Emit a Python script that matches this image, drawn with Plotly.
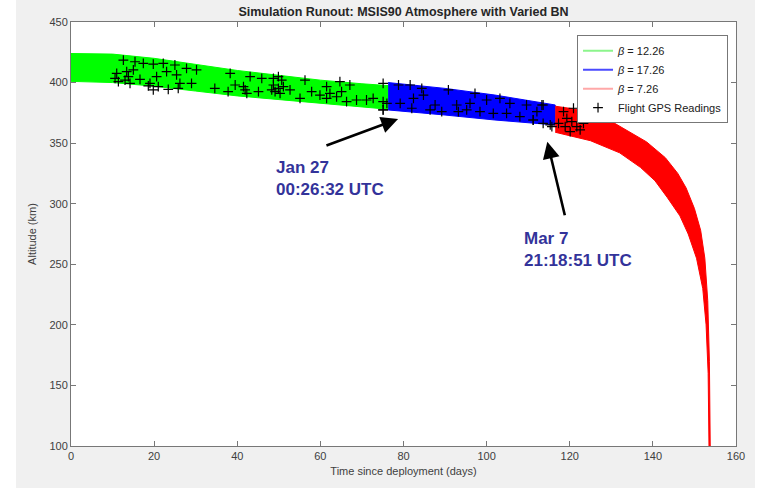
import plotly.graph_objects as go

# ---- data ----
green_t = [0, 10, 20, 30, 40, 50, 60, 70, 76.3]
green_hi = [424, 423.5, 420, 415, 410, 406, 402, 399, 397.5]
green_lo = [401, 400, 397, 393, 389, 386, 383, 380, 378]

blue_t = [76.3, 90, 102, 116.5]
blue_hi = [400, 395.2, 389.7, 381.5]
blue_lo = [377.4, 373.2, 369.1, 365]

red_hi_t = [116.5, 122.5, 130.5, 138.5, 143, 146, 148, 150, 151.5, 152.5, 153.2, 153.6, 153.8]
red_hi = [380.5, 377.5, 367, 351, 338, 325, 313, 296, 278, 255, 220, 170, 100]
red_lo_t = [116.5, 125, 132, 137, 140.5, 143.5, 146.5, 148.5, 150.5, 152, 152.8, 153.3, 153.5]
red_lo = [359, 352, 342, 330, 319, 305, 290, 275, 255, 230, 200, 160, 100]

gps_t = [12.6, 15.4, 17.4, 19.8, 22.2, 25.0, 27.8, 30.2, 23.0, 25.4, 20.6, 11.0, 13.4, 15.0, 10.6,
         13.0, 14.2, 16.6, 19.0, 21.0, 23.4, 25.8, 26.2, 29.0, 34.6, 38.3, 39.5, 37.8, 41.5, 42.3,
         19.8, 18.6, 11.4, 13.8,
         43.1, 45.9, 48.7, 49.9, 50.7, 48.7, 49.9, 49.1, 50.3, 48.3, 51.1, 52.7, 56.3, 55.1, 57.9,
         59.9, 61.5, 62.3, 64.7, 67.1, 63.9, 66.3, 68.7, 71.1, 72.7, 75.1, 75.1, 41.9, 45.1, 61.5, 65.1,
         75.1, 78.8, 81.6, 84.4, 84.8, 90.8, 97.2, 100.0, 103.2, 76.0, 79.2, 82.0, 86.4, 89.2, 93.2,
         95.2, 98.4, 101.6, 104.8, 108.0, 109.6, 113.6, 111.2, 115.3, 75.1, 82.4, 87.6, 92.8, 96.0,
         105.6, 112.1,
         113.3, 111.2, 113.6, 115.7, 119.3, 120.5, 121.7, 122.5, 120.1, 123.3, 118.9, 120.9, 118.5, 117.3]
gps_alt = [418.6, 417.2, 415.9, 415.3, 415.9, 414.5, 411.8, 410.4, 409.0, 406.3, 404.9, 407.6, 409.0, 410.4, 403.5,
           402.1, 399.4, 402.7, 399.4, 396.6, 394.4, 395.2, 399.4, 399.4, 395.2, 407.6, 398.0, 392.5, 396.6, 391.1,
           393.9, 397.2, 400.8, 404.9,
           404.9, 403.5, 403.5, 404.9, 402.1, 398.0, 395.2, 392.5, 391.1, 393.9, 396.6, 393.9, 402.1, 387.0, 392.5,
           389.7, 396.6, 391.1, 400.8, 398.0, 388.3, 384.2, 385.6, 385.6, 387.0, 384.2, 377.4, 393.9, 392.5, 387.0, 392.5,
           399.4, 398.0, 398.0, 395.2, 389.7, 393.9, 391.1, 385.6, 387.0, 382.9, 382.9, 378.8, 377.4, 376.0, 376.0,
           377.4, 376.0, 374.6, 374.6, 371.9, 381.5, 381.5, 369.1, 365.0, 377.4, 387.0, 381.5, 381.5, 382.9,
           382.9, 376.0,
           381.5, 369.1, 366.4, 363.6, 370.5, 367.7, 363.6, 360.9, 359.5, 366.4, 363.6, 378.8, 376.0, 366.4]

legend_names = ["<i>β</i> = 12.26", "<i>β</i> = 17.26", "<i>β</i> = 7.26", "Flight GPS Readings"]
x_ticks = [0, 20, 40, 60, 80, 100, 120, 140, 160]
y_ticks = [100, 150, 200, 250, 300, 350, 400, 450]

FONT = "Liberation Sans, Arial, sans-serif"

fig = go.Figure()


def band(t, hi, t_lo, lo, color):
    xs = list(t) + list(reversed(t_lo))
    ys = list(hi) + list(reversed(lo))
    fig.add_trace(go.Scatter(x=xs, y=ys, fill="toself", fillcolor=color, mode="lines",
                             line=dict(color=color, width=1), showlegend=False, hoverinfo="skip"))


band(green_t, green_hi, green_t, green_lo, "#00ff00")
band(blue_t, blue_hi, blue_t, blue_lo, "#0000ff")
band(red_hi_t, red_hi, red_lo_t, red_lo, "#ff0000")

# legend entries (pale line samples as in the reference)
for name, col in zip(legend_names[:3], ["#8cf58c", "#4a4aff", "#ffa8a8"]):
    fig.add_trace(go.Scatter(x=[None], y=[None], mode="lines", name=name,
                             line=dict(color=col, width=2)))

fig.add_trace(go.Scatter(x=gps_t, y=gps_alt, mode="markers", name=legend_names[3],
                         marker=dict(symbol="cross-thin", size=7, color="black",
                                     line=dict(color="black", width=1.2))))

fig.update_layout(
    width=772, height=493,
    margin=dict(l=71, r=36, t=22, b=47),
    paper_bgcolor="#f0f0f0",
    plot_bgcolor="white",
    font=dict(family=FONT, size=11, color="#404040"),
    title=dict(text="<b>Simulation Runout: MSIS90 Atmosphere with Varied BN</b>",
               x=0.5, xref="paper", xanchor="center", y=1 - 12 / 493, yref="container",
               yanchor="middle", font=dict(size=12.5, color="#262626")),
    xaxis=dict(range=[0, 160], tickvals=x_ticks, ticks="inside", ticklen=5, mirror="ticks",
               showline=True, linecolor="#777777", tickcolor="#777777", showgrid=False,
               zeroline=False, title=dict(text="Time since deployment (days)", standoff=6,
                                          font=dict(size=11))),
    yaxis=dict(range=[100, 450], tickvals=y_ticks, ticks="inside", ticklen=5, mirror="ticks",
               showline=True, linecolor="#777777", tickcolor="#777777", showgrid=False,
               zeroline=False, title=dict(text="Altitude (km)", standoff=10, font=dict(size=11))),
    legend=dict(x=0.988, y=0.969, xanchor="right", yanchor="top", bgcolor="white",
                bordercolor="#777777", borderwidth=1, font=dict(size=11, color="#202020"),
                tracegroupgap=0, itemwidth=30),
    showlegend=True,
)

# white margins of the original screenshot
for x0, x1, y0, y1 in [(-0.2, (16 - 71) / 665, -0.3, 1.3), ((755 - 71) / 665, 1.2, -0.3, 1.3),
                       (-0.2, 1.2, -0.3, (446 - 488) / 424)]:
    fig.add_shape(type="rect", xref="paper", yref="paper", x0=x0, x1=x1, y0=y0, y1=y1,
                  fillcolor="white", line=dict(width=0), layer="below")

BLUE_TXT = "#33339a"
fig.add_annotation(x=48.8, y=320.8, xref="x", yref="y", text="<b>Jan 27<br>00:26:32 UTC</b>",
                   showarrow=False, xanchor="left", yanchor="middle", align="left",
                   font=dict(size=17, color=BLUE_TXT, family=FONT))
fig.add_annotation(x=108.4, y=262.6, xref="x", yref="y", text="<b>Mar 7<br>21:18:51 UTC</b>",
                   showarrow=False, xanchor="left", yanchor="middle", align="left",
                   font=dict(size=17, color=BLUE_TXT, family=FONT))

for (hx, hy, tx, ty) in [(78.7, 369.9, 61.1, 347.6), (114.6, 351.2, 118.9, 289.3)]:
    fig.add_annotation(x=hx, y=hy, ax=tx, ay=ty, xref="x", yref="y", axref="x", ayref="y",
                       text="", showarrow=True, arrowhead=2, arrowsize=1.3, arrowwidth=2.6,
                       arrowcolor="black", standoff=0)

fig.write_html("out.html")
